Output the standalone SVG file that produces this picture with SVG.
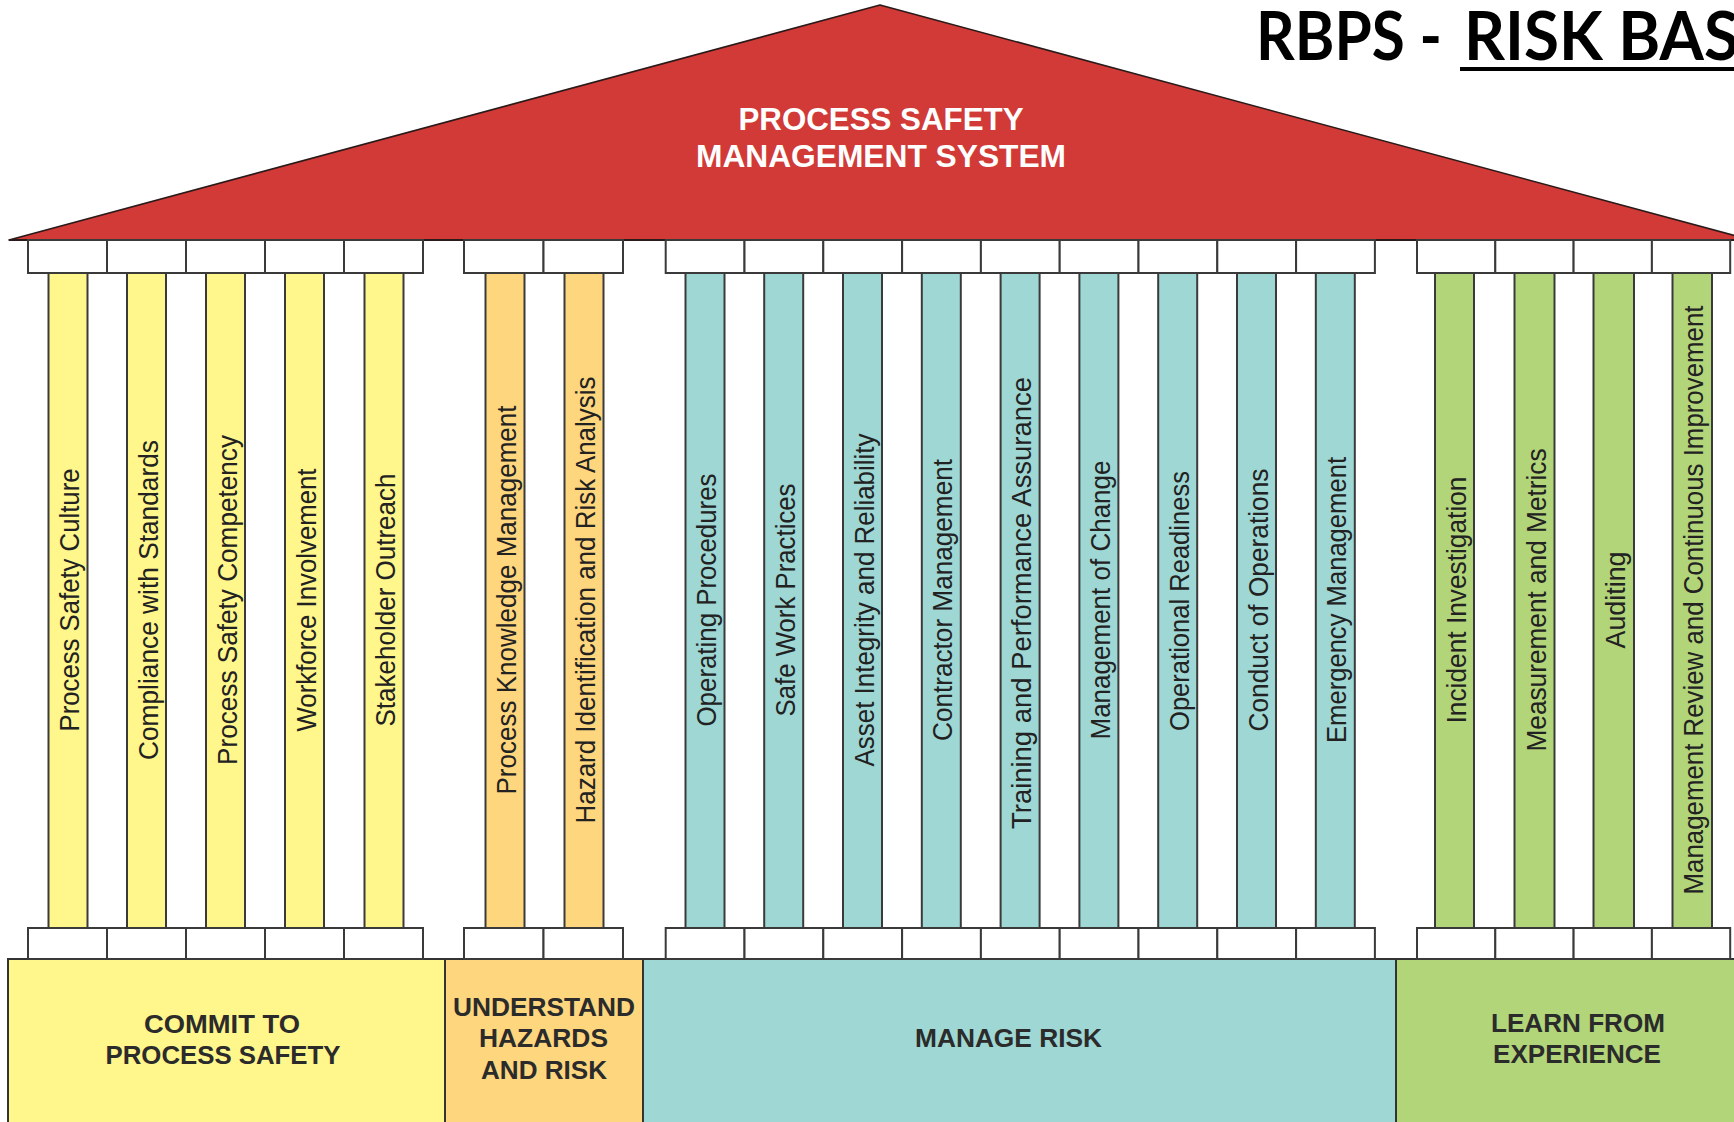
<svg xmlns="http://www.w3.org/2000/svg" width="1734" height="1122" viewBox="0 0 1734 1122">
<style>
.bg{fill:#ffffff}
.roof{fill:#D13A36;stroke:#2a1a1a;stroke-width:1.6;stroke-linejoin:round}
.box{fill:#ffffff;stroke:#3a3a3a;stroke-width:2}
.cy{fill:#FFF68C;stroke:#3a3a3a;stroke-width:2}
.co{fill:#FDD67E;stroke:#3a3a3a;stroke-width:2}
.ct{fill:#9ED7D3;stroke:#3a3a3a;stroke-width:2}
.cg{fill:#B2D57A;stroke:#3a3a3a;stroke-width:2}
.band{stroke:#333333;stroke-width:2}
.lbl{font-family:"Liberation Sans",Arial,Helvetica,sans-serif;font-size:27px;fill:#222222;text-anchor:middle}
.bt{font-family:"Liberation Sans",Arial,Helvetica,sans-serif;font-size:26px;font-weight:bold;fill:#2b2b2b;text-anchor:middle}
.rt{font-family:"Liberation Sans",Arial,Helvetica,sans-serif;font-size:31px;font-weight:bold;fill:#ffffff;text-anchor:middle}
.title{font-family:Lato,"Open Sans","Liberation Sans",sans-serif;font-size:67px;font-weight:bold;fill:#000000}
</style>
<rect class="bg" x="0" y="0" width="1734" height="1122"/>

<g id="title">
<text class="title" x="1256" y="60" textLength="186" lengthAdjust="spacingAndGlyphs">RBPS -</text>
<text class="title" x="1464" y="60" textLength="275" lengthAdjust="spacingAndGlyphs">RISK BAS</text>
<rect x="1460" y="67" width="280" height="4" fill="#000000"/>
</g>

<g id="roof">
<polygon class="roof" points="9,240 880,5 1751,240"/>
<line x1="9" y1="240" x2="1734" y2="240" stroke="#2a1a1a" stroke-width="2"/>
<text class="rt" x="881" y="129.5" textLength="285" lengthAdjust="spacingAndGlyphs">PROCESS SAFETY</text>
<text class="rt" x="881" y="167" textLength="370" lengthAdjust="spacingAndGlyphs">MANAGEMENT SYSTEM</text>
</g>

<g id="bands">
<g id="band-commit">
<rect class="band" x="8" y="959" width="437" height="175" fill="#FFF68C"/>
<text class="bt" x="222" y="1033" textLength="156" lengthAdjust="spacingAndGlyphs">COMMIT TO</text>
<text class="bt" x="223" y="1064" textLength="235" lengthAdjust="spacingAndGlyphs">PROCESS SAFETY</text>
</g>
<g id="band-understand">
<rect class="band" x="445" y="959" width="198" height="175" fill="#FDD67E"/>
<text class="bt" x="544" y="1016" textLength="182" lengthAdjust="spacingAndGlyphs">UNDERSTAND</text>
<text class="bt" x="543.5" y="1047" textLength="129" lengthAdjust="spacingAndGlyphs">HAZARDS</text>
<text class="bt" x="544" y="1079" textLength="126" lengthAdjust="spacingAndGlyphs">AND RISK</text>
</g>
<g id="band-manage">
<rect class="band" x="643" y="959" width="753" height="175" fill="#9ED7D3"/>
<text class="bt" x="1008.5" y="1047" textLength="187" lengthAdjust="spacingAndGlyphs">MANAGE RISK</text>
</g>
<g id="band-learn">
<rect class="band" x="1396" y="959" width="350" height="175" fill="#B2D57A"/>
<text class="bt" x="1578" y="1032" textLength="174" lengthAdjust="spacingAndGlyphs">LEARN FROM</text>
<text class="bt" x="1577" y="1063" textLength="168" lengthAdjust="spacingAndGlyphs">EXPERIENCE</text>
</g>
</g>

<g id="pillars">
<!-- Commit to process safety (yellow) -->
<g id="p1"><rect class="box" x="28" y="240" width="79" height="33"/><rect class="box" x="28" y="928" width="79" height="31"/><rect class="cy" x="48.5" y="273" width="39" height="655"/><text class="lbl" transform="translate(79,600) rotate(-90)" textLength="263" lengthAdjust="spacingAndGlyphs">Process Safety Culture</text></g>
<g id="p2"><rect class="box" x="107" y="240" width="79" height="33"/><rect class="box" x="107" y="928" width="79" height="31"/><rect class="cy" x="127" y="273" width="39" height="655"/><text class="lbl" transform="translate(157.5,600) rotate(-90)" textLength="320" lengthAdjust="spacingAndGlyphs">Compliance with Standards</text></g>
<g id="p3"><rect class="box" x="186" y="240" width="79" height="33"/><rect class="box" x="186" y="928" width="79" height="31"/><rect class="cy" x="206" y="273" width="39" height="655"/><text class="lbl" transform="translate(236.5,600) rotate(-90)" textLength="330" lengthAdjust="spacingAndGlyphs">Process Safety Competency</text></g>
<g id="p4"><rect class="box" x="265" y="240" width="79" height="33"/><rect class="box" x="265" y="928" width="79" height="31"/><rect class="cy" x="285" y="273" width="39" height="655"/><text class="lbl" transform="translate(315.5,600) rotate(-90)" textLength="263" lengthAdjust="spacingAndGlyphs">Workforce Involvement</text></g>
<g id="p5"><rect class="box" x="344" y="240" width="79" height="33"/><rect class="box" x="344" y="928" width="79" height="31"/><rect class="cy" x="364.5" y="273" width="39" height="655"/><text class="lbl" transform="translate(395,600) rotate(-90)" textLength="253" lengthAdjust="spacingAndGlyphs">Stakeholder Outreach</text></g>

<!-- Understand hazards and risk (orange) -->
<g id="p6"><rect class="box" x="464" y="240" width="79.5" height="33"/><rect class="box" x="464" y="928" width="79.5" height="31"/><rect class="co" x="485.5" y="273" width="39" height="655"/><text class="lbl" transform="translate(516,600) rotate(-90)" textLength="389" lengthAdjust="spacingAndGlyphs">Process Knowledge Management</text></g>
<g id="p7"><rect class="box" x="543.5" y="240" width="79.5" height="33"/><rect class="box" x="543.5" y="928" width="79.5" height="31"/><rect class="co" x="564.5" y="273" width="39" height="655"/><text class="lbl" transform="translate(595,600) rotate(-90)" textLength="447" lengthAdjust="spacingAndGlyphs">Hazard Identification and Risk Analysis</text></g>

<!-- Manage risk (teal) -->
<g id="p8"><rect class="box" x="665.7" y="240" width="78.8" height="33"/><rect class="box" x="665.7" y="928" width="78.8" height="31"/><rect class="ct" x="685.5" y="273" width="39" height="655"/><text class="lbl" transform="translate(716,600) rotate(-90)" textLength="253" lengthAdjust="spacingAndGlyphs">Operating Procedures</text></g>
<g id="p9"><rect class="box" x="744.5" y="240" width="78.8" height="33"/><rect class="box" x="744.5" y="928" width="78.8" height="31"/><rect class="ct" x="764.2" y="273" width="39" height="655"/><text class="lbl" transform="translate(794.7,600) rotate(-90)" textLength="233" lengthAdjust="spacingAndGlyphs">Safe Work Practices</text></g>
<g id="p10"><rect class="box" x="823.3" y="240" width="78.8" height="33"/><rect class="box" x="823.3" y="928" width="78.8" height="31"/><rect class="ct" x="843" y="273" width="39" height="655"/><text class="lbl" transform="translate(873.5,600) rotate(-90)" textLength="333" lengthAdjust="spacingAndGlyphs">Asset Integrity and Reliability</text></g>
<g id="p11"><rect class="box" x="902.1" y="240" width="78.8" height="33"/><rect class="box" x="902.1" y="928" width="78.8" height="31"/><rect class="ct" x="921.8" y="273" width="39" height="655"/><text class="lbl" transform="translate(952.3,600) rotate(-90)" textLength="282" lengthAdjust="spacingAndGlyphs">Contractor Management</text></g>
<g id="p12"><rect class="box" x="980.9" y="240" width="78.8" height="33"/><rect class="box" x="980.9" y="928" width="78.8" height="31"/><rect class="ct" x="1000.6" y="273" width="39" height="655"/><text class="lbl" transform="translate(1031.1,603) rotate(-90)" textLength="452" lengthAdjust="spacingAndGlyphs">Training and Performance Assurance</text></g>
<g id="p13"><rect class="box" x="1059.7" y="240" width="78.8" height="33"/><rect class="box" x="1059.7" y="928" width="78.8" height="31"/><rect class="ct" x="1079.4" y="273" width="39" height="655"/><text class="lbl" transform="translate(1109.9,600) rotate(-90)" textLength="279" lengthAdjust="spacingAndGlyphs">Management of Change</text></g>
<g id="p14"><rect class="box" x="1138.5" y="240" width="78.8" height="33"/><rect class="box" x="1138.5" y="928" width="78.8" height="31"/><rect class="ct" x="1158.2" y="273" width="39" height="655"/><text class="lbl" transform="translate(1188.7,601) rotate(-90)" textLength="260" lengthAdjust="spacingAndGlyphs">Operational Readiness</text></g>
<g id="p15"><rect class="box" x="1217.3" y="240" width="78.8" height="33"/><rect class="box" x="1217.3" y="928" width="78.8" height="31"/><rect class="ct" x="1237" y="273" width="39" height="655"/><text class="lbl" transform="translate(1267.5,600) rotate(-90)" textLength="263" lengthAdjust="spacingAndGlyphs">Conduct of Operations</text></g>
<g id="p16"><rect class="box" x="1296.1" y="240" width="78.8" height="33"/><rect class="box" x="1296.1" y="928" width="78.8" height="31"/><rect class="ct" x="1315.8" y="273" width="39" height="655"/><text class="lbl" transform="translate(1346.3,600) rotate(-90)" textLength="286" lengthAdjust="spacingAndGlyphs">Emergency Management</text></g>

<!-- Learn from experience (green) -->
<g id="p17"><rect class="box" x="1417" y="240" width="78.3" height="33"/><rect class="box" x="1417" y="928" width="78.3" height="31"/><rect class="cg" x="1435" y="273" width="39" height="655"/><text class="lbl" transform="translate(1465.5,600) rotate(-90)" textLength="247" lengthAdjust="spacingAndGlyphs">Incident Investigation</text></g>
<g id="p18"><rect class="box" x="1495.3" y="240" width="78.3" height="33"/><rect class="box" x="1495.3" y="928" width="78.3" height="31"/><rect class="cg" x="1514.5" y="273" width="40" height="655"/><text class="lbl" transform="translate(1545.5,600) rotate(-90)" textLength="303" lengthAdjust="spacingAndGlyphs">Measurement and Metrics</text></g>
<g id="p19"><rect class="box" x="1573.6" y="240" width="78.3" height="33"/><rect class="box" x="1573.6" y="928" width="78.3" height="31"/><rect class="cg" x="1593.5" y="273" width="40.5" height="655"/><text class="lbl" transform="translate(1624.5,600) rotate(-90)" textLength="97" lengthAdjust="spacingAndGlyphs">Auditing</text></g>
<g id="p20"><rect class="box" x="1651.9" y="240" width="78.3" height="33"/><rect class="box" x="1651.9" y="928" width="78.3" height="31"/><rect class="cg" x="1672.5" y="273" width="39.5" height="655"/><text class="lbl" transform="translate(1703,600) rotate(-90)" textLength="589" lengthAdjust="spacingAndGlyphs">Management Review and Continuous Improvement</text></g>
</g>

<g id="connectors"></g>
</svg>
